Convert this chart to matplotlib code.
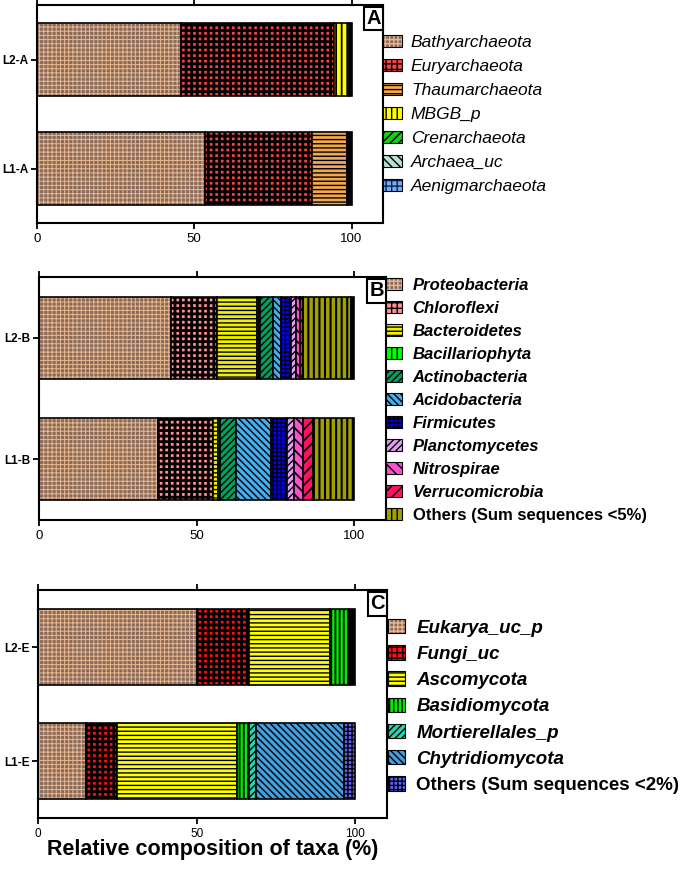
import matplotlib
matplotlib.use('Agg')
import matplotlib.pyplot as plt
from matplotlib.patches import Patch
from matplotlib.legend_handler import HandlerTuple
import numpy as np

plt.rcParams['font.family'] = ['Liberation Sans', 'DejaVu Sans']
plt.rcParams['hatch.linewidth'] = 1.0

# ---------------- data ----------------
A_samples = ['L1-A', 'L2-A']
A_taxa = ['Bathyarchaeota', 'Euryarchaeota', 'Thaumarchaeota', 'MBGB_p',
          'Crenarchaeota', 'Archaea_uc', 'Aenigmarchaeota']
A_L1 = [53.3, 34.2, 11.1, 0.0, 0.0, 0.0, 0.0]
A_L2 = [45.7, 48.7, 0.0, 4.7, 0.0, 0.0, 0.0]
A_unlisted = [1.4, 0.9]

B_samples = ['L1-B', 'L2-B']
B_taxa = ['Proteobacteria', 'Chloroflexi', 'Bacteroidetes', 'Bacillariophyta',
          'Actinobacteria', 'Acidobacteria', 'Firmicutes', 'Planctomycetes',
          'Nitrospirae', 'Verrucomicrobia', 'Others (Sum sequences <5%)']
B_L1 = [37.8, 17.2, 1.9, 0.5, 5.1, 11.1, 5.0, 2.1, 2.9, 3.4, 13.0]
B_L2 = [41.9, 14.5, 12.8, 0.7, 4.4, 2.5, 3.1, 1.7, 1.1, 1.1, 15.2]
B_unlisted = [0.0, 1.0]

C_samples = ['L1-E', 'L2-E']
C_taxa = ['Eukarya_uc_p', 'Fungi_uc', 'Ascomycota', 'Basidiomycota',
          'Mortierellales_p', 'Chytridiomycota', 'Others (Sum sequences <2%)']
C_L1 = [15.2, 9.8, 37.6, 3.9, 2.1, 27.7, 3.7]
C_L2 = [50.1, 16.4, 25.6, 5.8, 0.0, 0.0, 0.0]
C_unlisted = [0.0, 2.1]

xticks = [0, 50, 100]
xlabel = 'Relative composition of taxa (%)'

# ---------------- styles (face, hatch, hatch colour, hatch lw) ----------------
BROWN = ('#8A6A5A', '++++', '#E8B890', 0.7)
styles = {
    'Bathyarchaeota': BROWN,
    'Euryarchaeota': ('#F24444', '+++', '#000000', 2.0),
    'Thaumarchaeota': ('#F2A850', '----', '#000000', 1.0),
    'MBGB_p': ('#FFFF00', '|||', '#000000', 1.3),
    'Crenarchaeota': ('#10D010', '////', '#000000', 1.0),
    'Archaea_uc': ('#B8E0D0', '\\\\\\\\', '#000000', 1.0),
    'Aenigmarchaeota': ('#70B0F0', '+++', '#102050', 1.0),
    'Proteobacteria': BROWN,
    'Chloroflexi': ('#FF9090', '+++', '#000000', 2.0),
    'Bacteroidetes': ('#F0F000', '----', '#000000', 1.0),
    'Bacillariophyta': ('#00FF00', '|||', '#000000', 1.2),
    'Actinobacteria': ('#00A060', '/////', '#000000', 1.0),
    'Acidobacteria': ('#40B0F0', '\\\\\\\\\\', '#000000', 1.0),
    'Firmicutes': ('#0000FF', '++++', '#000000', 1.0),
    'Planctomycetes': ('#E0A0F0', '/////', '#000000', 1.0),
    'Nitrospirae': ('#FF50D0', '\\\\\\', '#000000', 1.3),
    'Verrucomicrobia': ('#FF1060', '///', '#000000', 1.3),
    'Others (Sum sequences <5%)': ('#A0A000', '|||', '#000000', 1.5),
    'Eukarya_uc_p': BROWN,
    'Fungi_uc': ('#FF1010', '+++', '#000000', 2.0),
    'Ascomycota': ('#FFFF00', '----', '#000000', 1.0),
    'Basidiomycota': ('#00EE00', '||||', '#000000', 1.3),
    'Mortierellales_p': ('#20D8B0', '/////', '#000000', 1.0),
    'Chytridiomycota': ('#40A0E0', '\\\\\\\\\\', '#000000', 1.0),
    'Others (Sum sequences <2%)': ('#6060FF', '++++', '#000000', 1.0),
}

BAR_H = 0.675
EDGE_LW = 1.2

fig = plt.figure(figsize=(6.85, 8.74), dpi=100)
W, H = 685.0, 874.0


def add_axes(left_px, top_px, right_px, bottom_px):
    return fig.add_axes([left_px / W, 1 - bottom_px / H,
                         (right_px - left_px) / W, (bottom_px - top_px) / H])


def set_hlw(patches, lw):
    for p in patches:
        if hasattr(p, 'set_hatch_linewidth'):
            p.set_hatch_linewidth(lw)


def hatch_patch(face, hatch, hc, hlw):
    with plt.rc_context({'hatch.linewidth': hlw}):
        p = Patch(facecolor='none', edgecolor=hc, hatch=hatch, linewidth=0)
    set_hlw([p], hlw)
    return p


def draw_panel(ax, samples, taxa, rows, unlisted, letter, tick_fs):
    y = np.arange(len(samples))
    left = np.zeros(len(samples))
    handles = []
    for j, taxon in enumerate(taxa):
        face, hatch, hc, hlw = styles[taxon]
        vals = np.array([r[j] for r in rows])
        m = vals > 0
        if m.any():
            ax.barh(y[m], vals[m], left=left[m], height=BAR_H, color=face,
                    edgecolor='none', linewidth=0)
            with plt.rc_context({'hatch.linewidth': hlw}):
                hb = ax.barh(y[m], vals[m], left=left[m], height=BAR_H,
                             facecolor='none', edgecolor=hc, hatch=hatch,
                             linewidth=0)
            set_hlw(hb.patches, hlw)
            ax.barh(y[m], vals[m], left=left[m], height=BAR_H, fill=False,
                    edgecolor='black', linewidth=EDGE_LW)
        left = left + vals
        handles.append((Patch(facecolor=face, edgecolor='none', linewidth=0),
                        hatch_patch(face, hatch, hc, hlw),
                        Patch(fill=False, edgecolor='black', linewidth=0.8)))
    un = np.array(unlisted)
    m = un > 0
    if m.any():
        ax.barh(y[m], un[m], left=left[m], height=BAR_H, color='black',
                edgecolor='black', linewidth=EDGE_LW)
    ax.set_xlim(0, 110)
    ax.set_ylim(-0.5, 1.5)
    ax.set_yticks(y)
    ax.set_yticklabels(samples, fontsize=8.5, fontweight='bold')
    ax.set_xticks(xticks)
    ax.set_xticklabels([str(t) for t in xticks], fontsize=tick_fs)
    ax.tick_params(axis='x', which='both', top=True, bottom=True, direction='out',
                   length=4, width=1.3, pad=3)
    ax.tick_params(axis='y', which='both', left=True, right=False, direction='out',
                   length=4, width=1.3, pad=2)
    for s in ax.spines.values():
        s.set_linewidth(1.5)
    ax.text(0.994, 0.982, letter, transform=ax.transAxes, ha='right', va='top',
            fontsize=14.5, fontweight='bold',
            bbox=dict(boxstyle='square,pad=0.12', facecolor='white',
                      edgecolor='black', linewidth=1.5))
    return handles


def add_legend(handles, labels, x_px, top_px, fs, bold, hl, hh, tp, ls):
    with plt.rc_context({'hatch.linewidth': 1.0}):
        leg = fig.legend(handles, labels, loc='upper left',
                         bbox_to_anchor=(x_px / W, 1 - top_px / H),
                         bbox_transform=fig.transFigure, frameon=False,
                         borderpad=0, borderaxespad=0, handlelength=hl,
                         handleheight=hh, handletextpad=tp, labelspacing=ls,
                         prop=dict(size=fs, weight='bold' if bold else 'normal'),
                         handler_map={tuple: HandlerTuple(ndivide=1, pad=0)})
    for t in leg.get_texts():
        if not t.get_text().startswith('Others'):
            t.set_fontstyle('italic')
    return leg


axA = add_axes(37, 5, 383, 223)
hA = draw_panel(axA, A_samples, A_taxa, [A_L1, A_L2], A_unlisted, 'A', 9.5)
add_legend(hA, A_taxa, 383, 35, 12.5, False, 1.09, 0.69, 0.52, 0.51)

axB = add_axes(39, 277, 386, 520)
hB = draw_panel(axB, B_samples, B_taxa, [B_L1, B_L2], B_unlisted, 'B', 9.5)
add_legend(hB, B_taxa, 386, 278, 12, True, 0.94, 0.76, 0.66, 0.48)

axC = add_axes(38, 590, 387, 818)
hC = draw_panel(axC, C_samples, C_taxa, [C_L1, C_L2], C_unlisted, 'C', 8.5)
add_legend(hC, C_taxa, 388, 619, 13.5, True, 0.89, 0.8, 0.62, 0.455)
axC.set_xlabel(xlabel, fontsize=15.5, fontweight='bold', labelpad=-0.5)

fig.savefig('out.png', dpi=100)
